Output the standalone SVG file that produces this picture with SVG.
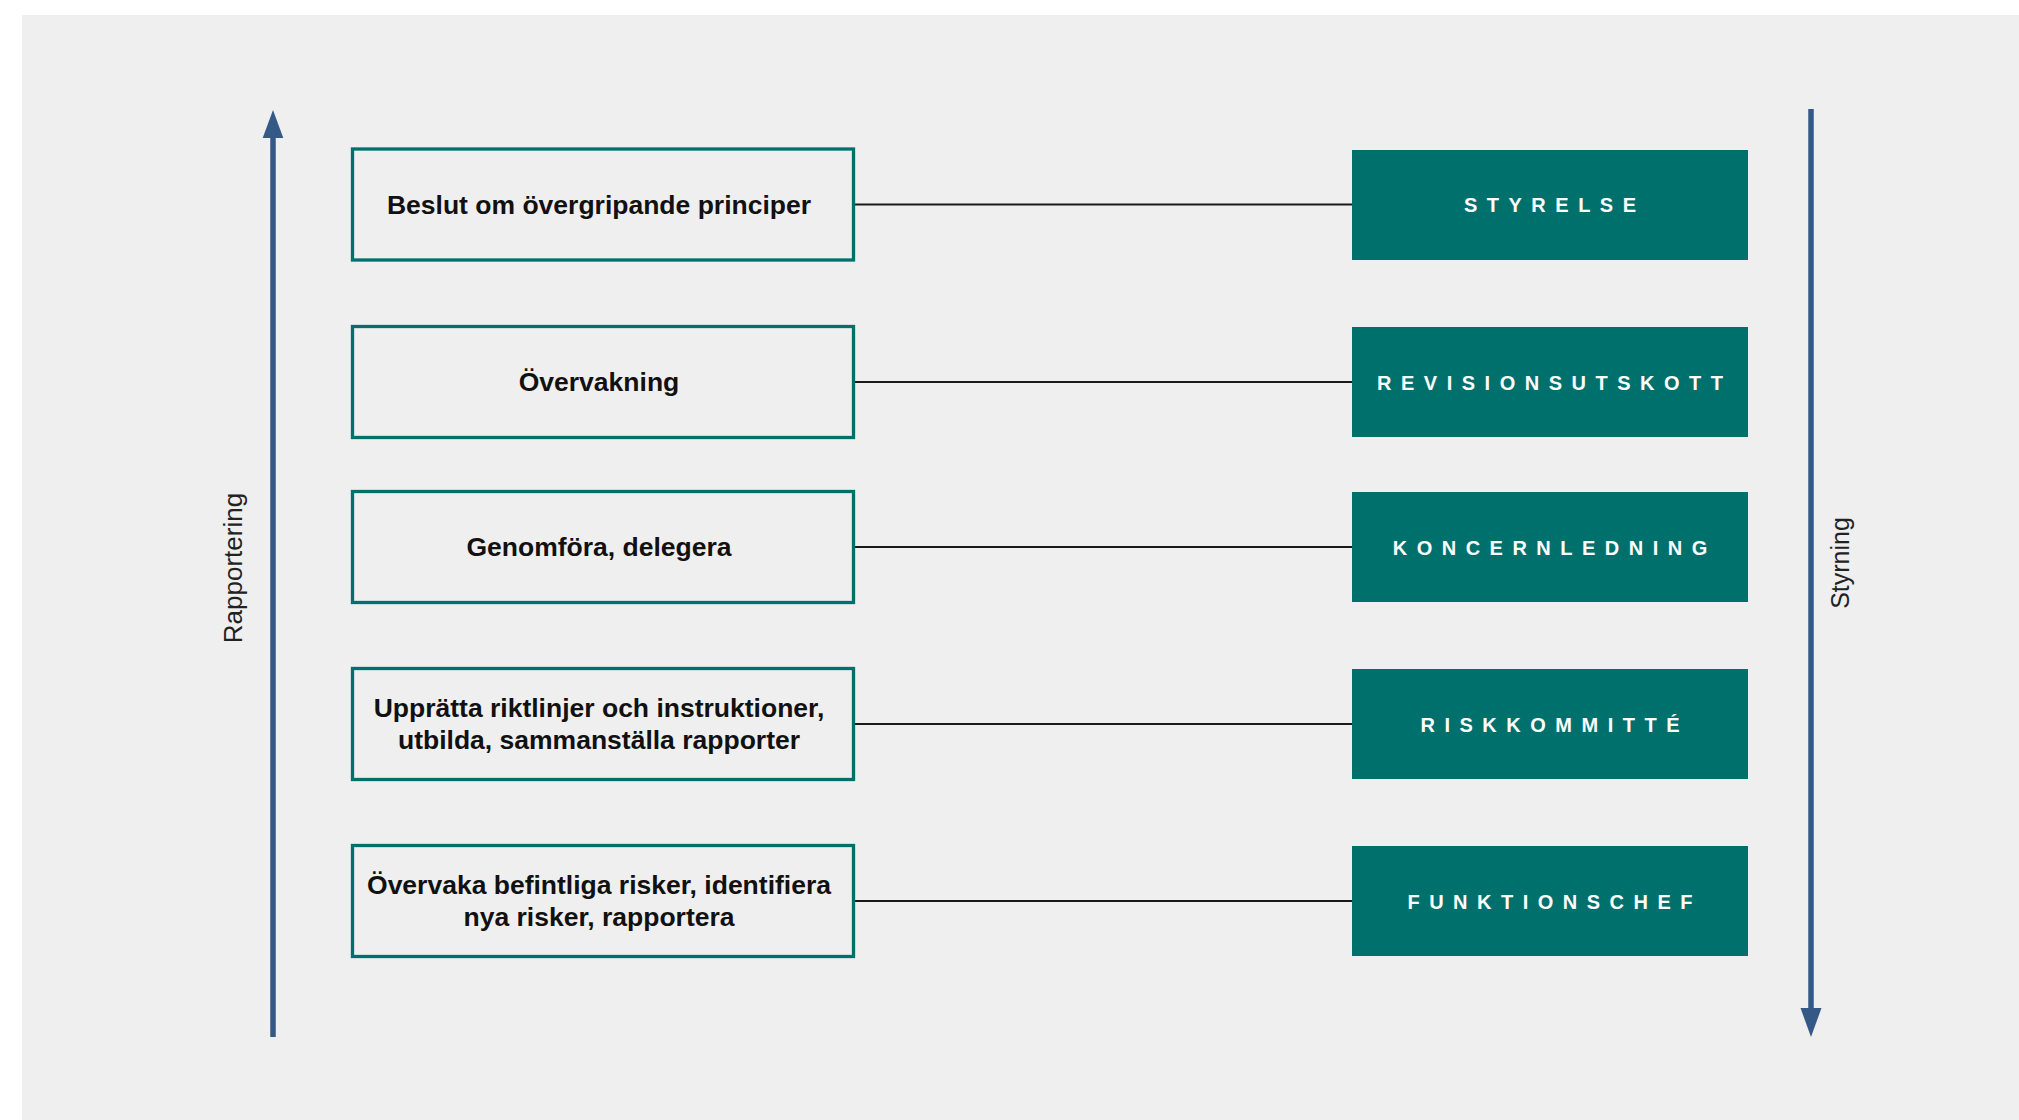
<svg xmlns="http://www.w3.org/2000/svg" width="2019" height="1120" viewBox="0 0 2019 1120">
<style>
.bg{fill:#EFEFEF}
.lbox{fill:#EFEFEF;stroke:#00706D;stroke-width:3.3}
.ltxt{font-family:"Liberation Sans",Arial,sans-serif;font-weight:bold;font-size:26.5px;fill:#111;text-anchor:middle}
.rbox{fill:#00706D}
.rtxt{font-family:"Liberation Sans",Arial,sans-serif;font-weight:bold;font-size:20px;fill:#fff;text-anchor:middle;letter-spacing:9.5px}
.conn{stroke:#1a1a1a;stroke-width:2;fill:none}
.axis{stroke:#355987;stroke-width:5.5;fill:none}
.head{fill:#355987}
.side{font-family:"Liberation Sans",Arial,sans-serif;font-size:26px;fill:#222;text-anchor:middle}
</style>
<rect x="0" y="0" width="2019" height="1120" fill="#ffffff"/>
<rect class="bg" x="22" y="15" width="1997" height="1105"/>

<g id="connectors">
<line class="conn" x1="855" y1="204.5" x2="1352" y2="204.5"/>
<line class="conn" x1="855" y1="382" x2="1352" y2="382"/>
<line class="conn" x1="855" y1="547" x2="1352" y2="547"/>
<line class="conn" x1="855" y1="724" x2="1352" y2="724"/>
<line class="conn" x1="855" y1="901" x2="1352" y2="901"/>
</g>

<g id="arrow-rapportering">
<line class="axis" x1="273" y1="136" x2="273" y2="1037"/>
<polygon class="head" points="262.7,138 273,110 283.3,138"/>
<text class="side" transform="translate(242,568) rotate(-90)">Rapportering</text>
</g>

<g id="arrow-styrning">
<line class="axis" x1="1811" y1="109" x2="1811" y2="1010"/>
<polygon class="head" points="1800.5,1008 1811,1037 1821.5,1008"/>
<text class="side" style="font-size:25px" transform="translate(1849,563) rotate(-90)">Styrning</text>
</g>

<g id="task-1">
<rect class="lbox" x="352.5" y="149" width="501" height="111"/>
<text class="ltxt" x="599" y="214">Beslut om övergripande principer</text>
</g>
<g id="task-2">
<rect class="lbox" x="352.5" y="326.5" width="501" height="111"/>
<text class="ltxt" x="599" y="391.3">Övervakning</text>
</g>
<g id="task-3">
<rect class="lbox" x="352.5" y="491.5" width="501" height="111"/>
<text class="ltxt" x="599" y="556.3">Genomföra, delegera</text>
</g>
<g id="task-4">
<rect class="lbox" x="352.5" y="668.5" width="501" height="111"/>
<text class="ltxt" x="599" y="717.3">Upprätta riktlinjer och instruktioner,</text>
<text class="ltxt" x="599" y="749.3">utbilda, sammanställa rapporter</text>
</g>
<g id="task-5">
<rect class="lbox" x="352.5" y="845.5" width="501" height="111"/>
<text class="ltxt" x="599" y="894.3">Övervaka befintliga risker, identifiera</text>
<text class="ltxt" x="599" y="926.3">nya risker, rapportera</text>
</g>

<g id="role-styrelse">
<rect class="rbox" x="1352" y="150" width="396" height="110"/>
<text class="rtxt" x="1554.75" y="212">STYRELSE</text>
</g>
<g id="role-revisionsutskott">
<rect class="rbox" x="1352" y="327" width="396" height="110"/>
<text class="rtxt" x="1554.75" y="389.5">REVISIONSUTSKOTT</text>
</g>
<g id="role-koncernledning">
<rect class="rbox" x="1352" y="492" width="396" height="110"/>
<text class="rtxt" x="1554.75" y="554.5">KONCERNLEDNING</text>
</g>
<g id="role-riskkommitte">
<rect class="rbox" x="1352" y="669" width="396" height="110"/>
<text class="rtxt" x="1554.75" y="731.5">RISKKOMMITTÉ</text>
</g>
<g id="role-funktionschef">
<rect class="rbox" x="1352" y="846" width="396" height="110"/>
<text class="rtxt" x="1554.75" y="908.5">FUNKTIONSCHEF</text>
</g>
</svg>
